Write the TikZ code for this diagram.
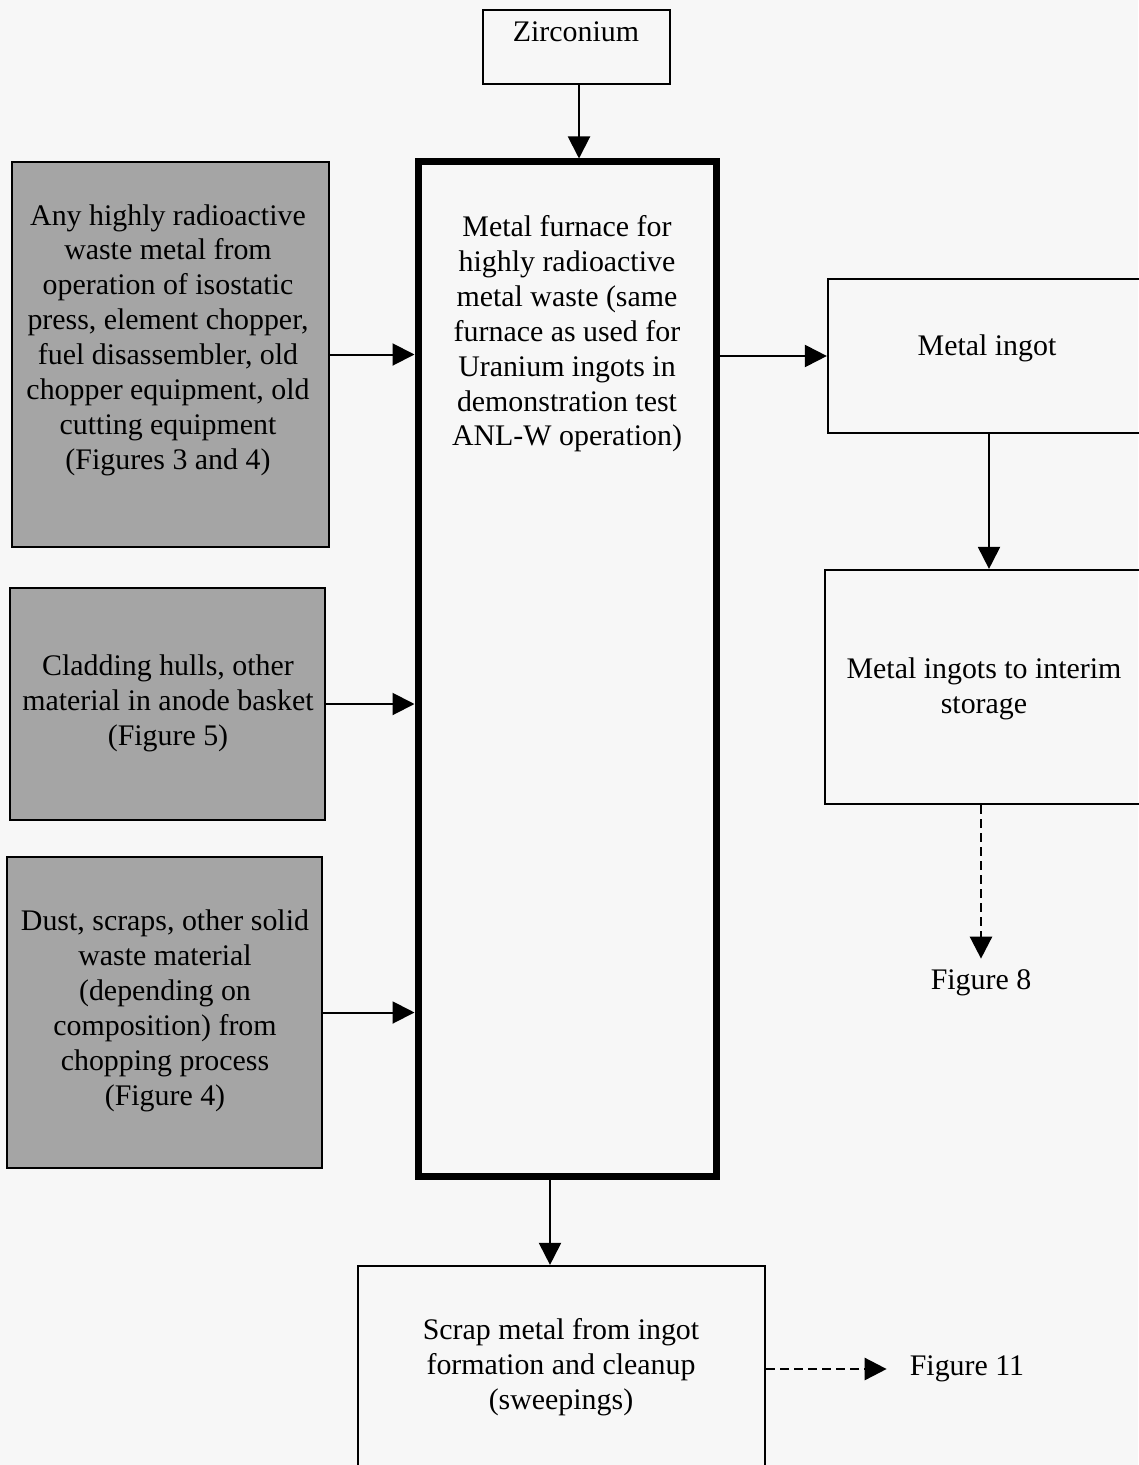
\documentclass[tikz,border=0pt]{standalone}
\usepackage{fontspec}
\setmainfont{Liberation Serif}
\usetikzlibrary{arrows.meta}
\definecolor{paper}{HTML}{F7F7F7}
\definecolor{shade}{HTML}{A5A5A5}
\tikzset{
  box/.style={draw=black, line width=2.2bp, inner sep=0pt},
  shadedbox/.style={box, fill=shade},
  furnacebox/.style={draw=black, line width=7bp, inner sep=0pt},
  txt/.style={align=center, font=\fontsize{30}{35}\selectfont, inner sep=1bp},
  flow/.style={line width=2bp, -{Triangle[length=22bp,width=22bp]}},
  dflow/.style={flow, line width=2.6bp, dash pattern=on 9bp off 5bp},
}
\begin{document}
\begin{tikzpicture}[x=1bp,y=-1bp]
\fill[paper] (0,0) rectangle (1138,1465);
\useasboundingbox (0,0) rectangle (1138,1465);

% boxes
\node[box, minimum width=187bp, minimum height=74bp] (zr) at (576.5,47) {};
\node[furnacebox, minimum width=298bp, minimum height=1014bp] (furnace) at (567,669) {};
\node[shadedbox, minimum width=317bp, minimum height=385bp] (b1) at (170.5,354.5) {};
\node[shadedbox, minimum width=315bp, minimum height=232bp] (b2) at (167.5,704) {};
\node[shadedbox, minimum width=315bp, minimum height=311bp] (b3) at (164.5,1012.5) {};
\node[box, minimum width=322bp, minimum height=154bp] (ingot) at (989,356) {};
\node[box, minimum width=325bp, minimum height=234bp] (storage) at (987.5,687) {};
\node[box, minimum width=407bp, minimum height=214bp] (scrap) at (561.5,1373) {};

% texts
\node[txt] (zrtext) at (576,32) {Zirconium};
\node[txt] (furnacetext) at (567,334) {Metal furnace for\\highly radioactive\\metal waste (same\\furnace as used for\\Uranium ingots in\\demonstration test\\ANL-W operation)};
\node[txt] (b1text) at (168,340) {Any highly radioactive\\waste metal from\\operation of isostatic\\press, element chopper,\\fuel disassembler, old\\chopper equipment, old\\cutting equipment\\(Figures 3 and 4)};
\node[txt] (b2text) at (168,703) {Cladding hulls, other\\material in anode basket\\(Figure 5)};
\node[txt] (b3text) at (165,1011) {Dust, scraps, other solid\\waste material\\(depending on\\composition) from\\chopping process\\(Figure 4)};
\node[txt] (ingottext) at (987,348) {Metal ingot};
\node[txt] (storagetext) at (984,689) {Metal ingots to interim\\storage};
\node[txt] (scraptext) at (561,1367) {Scrap metal from ingot\\formation and cleanup\\(sweepings)};
\node[txt] (fig8) at (981,983) {Figure 8};
\node[txt] (fig11) at (967,1369) {Figure 11};

% connectors
\draw[flow] ([xshift=2.5bp]zr.south) -- ([xshift=2.5bp]zr.south |- furnace.north);
\draw[flow] (b1.east) -- (b1.east -| furnace.west);
\draw[flow] (b2.east) -- (b2.east -| furnace.west);
\draw[flow] (b3.east) -- (b3.east -| furnace.west);
\draw[flow] (furnace.east |- ingot.west) -- (ingot.west);
\draw[flow] (ingot.south) -- (ingot.south |- storage.north);
\draw[dflow, shorten >=10bp] (storage.south -| fig8) -- (fig8.north);
\draw[flow] ([xshift=-17bp]furnace.south) -- ([xshift=-17bp]furnace.south |- scrap.north);
\draw[dflow, shorten >=22bp] (scrap.east |- fig11.west) -- (fig11.west);
\end{tikzpicture}
\end{document}
